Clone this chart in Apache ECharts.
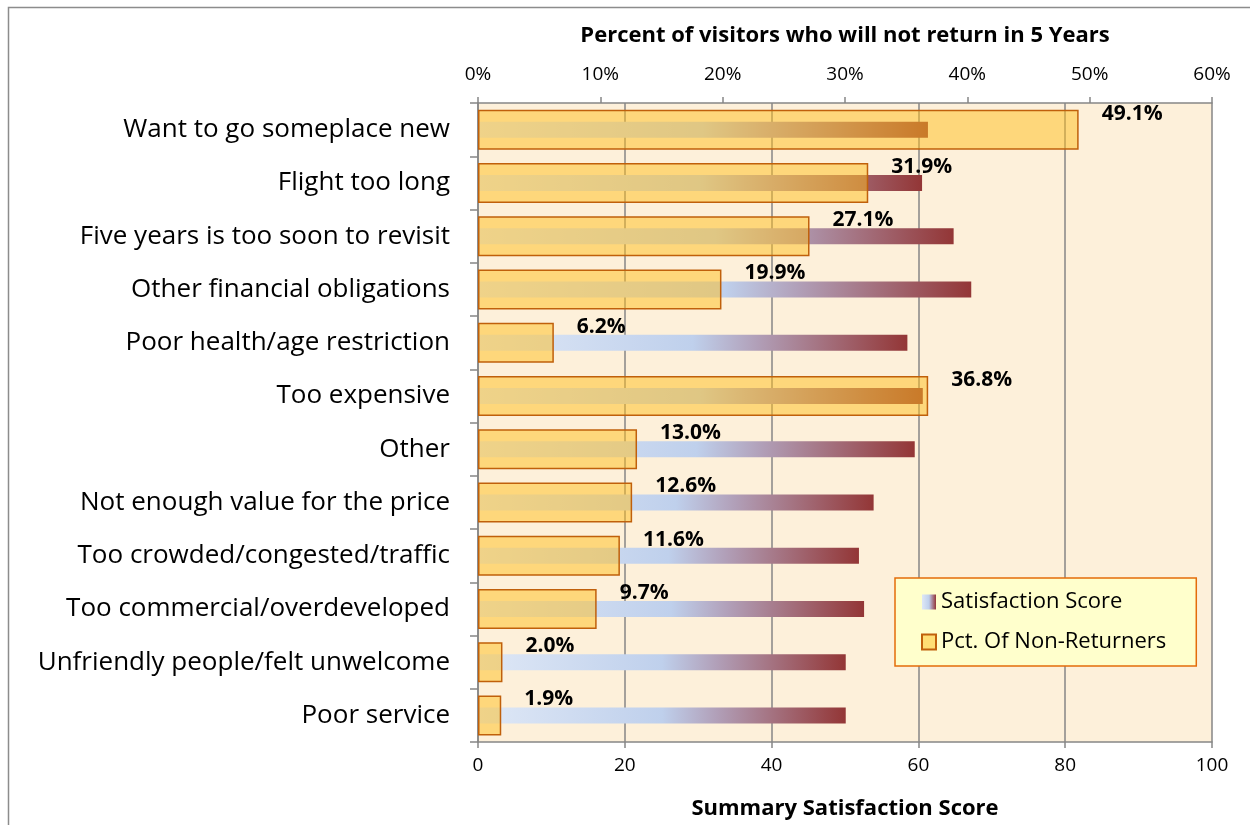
<!DOCTYPE html>
<html>
<head>
<meta charset="utf-8">
<script src="https://cdn.jsdelivr.net/npm/echarts@6/dist/echarts.min.js"></script>
<style>
    html, body { margin: 0; padding: 0; background: #fff; }
    #main { width: 1250px; height: 825px; }
</style>
</head>
<body>
<div id="main"></div>
<script>
    // 类别（从上到下）
    var categories = [
        'Want to go someplace new',
        'Flight too long',
        'Five years is too soon to revisit',
        'Other financial obligations',
        'Poor health/age restriction',
        'Too expensive',
        'Other',
        'Not enough value for the price',
        'Too crowded/congested/traffic',
        'Too commercial/overdeveloped',
        'Unfriendly people/felt unwelcome',
        'Poor service'
    ];
    // 满意度分数 (下轴 0-100)
    var satisfactionScore = [61.3, 60.5, 64.8, 67.2, 58.5, 60.6, 59.5, 53.9, 51.9, 52.6, 50.1, 50.1];
    // 不再回访比例 % (上轴 0-60%)
    var pctNonReturners = [49.1, 31.9, 27.1, 19.9, 6.2, 36.8, 13.0, 12.6, 11.6, 9.7, 2.0, 1.9];
    var pctTicks = [0, 60, 10];
    var scoreTicks = [0, 100, 20];

    var FONT = 'Open Sans';
    var chart = echarts.init(document.getElementById('main'));

    var satGradient = new echarts.graphic.LinearGradient(0, 0, 1, 0, [
        { offset: 0, color: '#dfe8f6' },
        { offset: 0.5, color: '#bfd0ec' },
        { offset: 0.65, color: '#b19fb8' },
        { offset: 1, color: '#933636' }
    ]);

    var option = {
        textStyle: { fontFamily: FONT },
        graphic: [{
            type: 'rect',
            shape: { x: 8.5, y: 7.5, width: 1400, height: 1000 },
            style: { fill: 'none', stroke: '#8c8c8c', lineWidth: 1.5 },
            silent: true
        }],
        grid: {
            left: 478, right: 38, top: 103, bottom: 82,
            show: true, backgroundColor: '#fdf0da', borderWidth: 0
        },
        legend: {
            orient: 'vertical',
            left: 895, top: 578,
            padding: [13, 30, 13, 26],
            itemGap: 18,
            itemWidth: 14, itemHeight: 15,
            backgroundColor: '#ffffcc',
            borderColor: '#e46c0a',
            borderWidth: 1.5,
            borderRadius: 0,
            textStyle: { fontFamily: FONT, fontSize: 22, color: '#000' },
            data: [
                { name: 'Satisfaction Score', icon: 'rect' },
                { name: 'Pct. Of Non-Returners', icon: 'rect' }
            ]
        },
        xAxis: [{
            type: 'value', position: 'bottom',
            min: scoreTicks[0], max: scoreTicks[1], interval: scoreTicks[2],
            name: 'Summary Satisfaction Score', nameLocation: 'middle', nameGap: 56,
            nameTextStyle: { fontFamily: FONT, fontSize: 22, fontWeight: 'bold', color: '#000' },
            axisLine: { show: true, lineStyle: { color: '#868686', width: 1.5 } },
            axisTick: { show: true, length: 6, lineStyle: { color: '#868686', width: 1.5 } },
            axisLabel: { fontFamily: FONT, fontSize: 19, color: '#000', margin: 14 },
            splitLine: { show: true, lineStyle: { color: '#868686', width: 1.5 } }
        }, {
            type: 'value', position: 'top',
            min: pctTicks[0], max: pctTicks[1], interval: pctTicks[2],
            name: 'Percent of visitors who will not return in 5 Years', nameLocation: 'middle', nameGap: 56,
            nameTextStyle: { fontFamily: FONT, fontSize: 22, fontWeight: 'bold', color: '#000' },
            axisLine: { show: true, lineStyle: { color: '#868686', width: 1.5 } },
            axisTick: { show: true, length: 6, lineStyle: { color: '#868686', width: 1.5 } },
            axisLabel: { fontFamily: FONT, fontSize: 19, color: '#000', margin: 19, formatter: '{value}%' },
            splitLine: { show: false }
        }],
        yAxis: [{
            type: 'category', inverse: true, data: categories,
            axisLine: { show: true, lineStyle: { color: '#868686', width: 1.5 } },
            axisTick: { show: true, length: 8, lineStyle: { color: '#868686', width: 1.5 } },
            axisLabel: { fontFamily: FONT, fontSize: 26, color: '#000', margin: 28 }
        }, {
            type: 'category', inverse: true, data: categories, show: false
        }],
        series: [{
            name: 'Satisfaction Score',
            type: 'bar',
            xAxisIndex: 0, yAxisIndex: 1,
            barWidth: 16,
            z: 2,
            itemStyle: { color: satGradient },
            data: satisfactionScore
        }, {
            name: 'Pct. Of Non-Returners',
            type: 'bar',
            xAxisIndex: 1, yAxisIndex: 0,
            barWidth: 40,
            z: 3,
            itemStyle: {
                color: 'rgba(255, 190, 27, 0.5)',
                borderColor: '#c0600b',
                borderWidth: 1.5
            },
            label: {
                show: true, position: 'right', offset: [18, -16],
                fontFamily: FONT, fontSize: 21, fontWeight: 'bold', color: '#000',
                formatter: function (p) { return p.value.toFixed(1) + '%'; }
            },
            data: pctNonReturners
        }]
    };
    chart.setOption(option);
</script>
</body>
</html>
